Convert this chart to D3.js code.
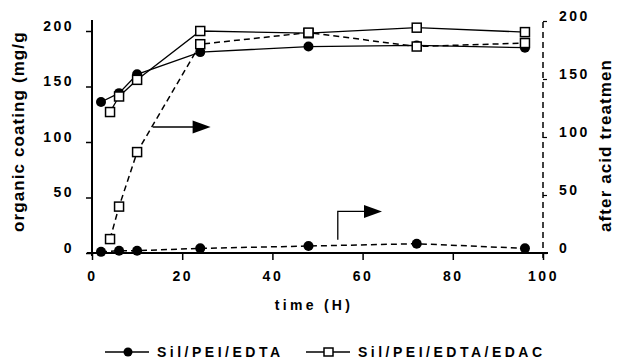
<!DOCTYPE html>
<html>
<head>
<meta charset="utf-8">
<script src="https://cdn.jsdelivr.net/npm/d3@7"></script>
<style>
  body { margin: 0; background: #fff; }
  svg { display: block; font-family: "Liberation Sans", Arial, sans-serif; font-weight: bold; }
  .tick text { font-size: 14px; letter-spacing: 2.5px; }
</style>
</head>
<body>
<div id="chart"></div>
<script>
// time points (h) and values
const timeA = [2, 6, 10, 24, 48, 72, 96];       // Sil/PEI/EDTA
const timeB = [4, 6, 10, 24, 48, 72, 96];       // Sil/PEI/EDTA/EDAC
const edtaCoating = [136, 144, 161, 181, 186, 187, 185];      // left axis
const edacCoating = [127, 141, 156, 200, 198, 203, 199];      // left axis
const edtaAfterAcid = [1, 2, 2, 4, 6, 8, 4];                  // right axis
const edacAfterAcid = [12, 40, 87, 180, 190, 178, 181];       // right axis
const xTicks = [0, 20, 40, 60, 80, 100];
const yTicks = [0, 50, 100, 150, 200];
const legendLabels = ["Sil/PEI/EDTA", "Sil/PEI/EDTA/EDAC"];

const width = 619, height = 362;

const svg = d3.select("#chart").append("svg")
  .attr("width", width)
  .attr("height", height);

// scales
const x = d3.scaleLinear().domain([0, 100]).range([92, 543]);
const yLeft = d3.scaleLinear().domain([0, 200]).range([253, 31]);
const yRight = d3.scaleLinear().domain([0, 200]).range([253, 21]);

// axes
const xAxis = d3.axisBottom(x).tickValues(xTicks).tickSize(7).tickPadding(11);
const gx = svg.append("g")
  .attr("class", "x-axis")
  .attr("transform", `translate(0, ${yLeft(0)})`)
  .call(xAxis);
gx.select(".domain").remove();
gx.append("line")
  .attr("x1", x(0) - 5).attr("x2", x(100) + 5)
  .attr("stroke", "#000").attr("stroke-width", 2);
gx.selectAll(".tick line").attr("stroke-width", 1.5);
gx.selectAll(".tick text").attr("fill", "#000");

const yAxisL = d3.axisLeft(yLeft).tickValues(yTicks).tickSize(6).tickPadding(12);
const gyl = svg.append("g")
  .attr("class", "y-axis")
  .attr("transform", `translate(${x(0)}, 0)`)
  .call(yAxisL);
gyl.select(".domain").remove();
gyl.append("line")
  .attr("y1", yLeft(0) + 3).attr("y2", yLeft(200) - 11)
  .attr("stroke", "#000").attr("stroke-width", 2);
gyl.selectAll(".tick line").attr("stroke-width", 1.5);
gyl.selectAll(".tick text").attr("fill", "#000").attr("dy", "-0.05em");

const yAxisR = d3.axisRight(yRight).tickValues(yTicks).tickSize(4).tickPadding(12);
const gyr = svg.append("g")
  .attr("class", "y-axis-right")
  .attr("transform", `translate(${x(100)}, 0)`)
  .call(yAxisR);
gyr.select(".domain").remove();
gyr.append("line")
  .attr("y1", yRight(0) + 5).attr("y2", yRight(200))
  .attr("stroke", "#000").attr("stroke-width", 1.5)
  .attr("stroke-dasharray", "6,4");
gyr.selectAll(".tick line").attr("stroke-width", 1.2);
gyr.selectAll(".tick text").attr("fill", "#000").attr("dy", "-0.05em");

// axis titles
svg.append("text")
  .attr("transform", `translate(24, 232) rotate(-90)`)
  .attr("font-size", 17)
  .attr("letter-spacing", 1.1)
  .text("organic coating (mg/g");

svg.append("text")
  .attr("transform", `translate(611, 232) rotate(-90)`)
  .attr("font-size", 17)
  .attr("letter-spacing", 1.1)
  .text("after acid treatmen");

svg.append("text")
  .attr("x", 314).attr("y", 310)
  .attr("text-anchor", "middle")
  .attr("font-size", 14)
  .attr("letter-spacing", 3.3)
  .text("time (H)");

// series
const series = [
  {t: timeA, v: edtaCoating, y: yLeft, dash: null, marker: "circle"},
  {t: timeB, v: edacCoating, y: yLeft, dash: null, marker: "square"},
  {t: timeA, v: edtaAfterAcid, y: yRight, dash: "6,4", marker: "circle"},
  {t: timeB, v: edacAfterAcid, y: yRight, dash: "6,4", marker: "square"}
];

series.forEach(s => {
  const pts = s.t.map((t, i) => [t, s.v[i]]);
  const line = d3.line().x(d => x(d[0])).y(d => s.y(d[1]));
  svg.append("path")
    .datum(pts)
    .attr("d", line)
    .attr("fill", "none")
    .attr("stroke", "#000")
    .attr("stroke-width", s.dash ? 1.5 : 1.3)
    .attr("stroke-dasharray", s.dash);

  if (s.marker === "circle") {
    svg.selectAll(null).data(pts).enter().append("circle")
      .attr("cx", d => x(d[0]))
      .attr("cy", d => s.y(d[1]))
      .attr("r", 5)
      .attr("fill", "#000");
  } else {
    svg.selectAll(null).data(pts).enter().append("rect")
      .attr("x", d => x(d[0]) - 4.5)
      .attr("y", d => s.y(d[1]) - 4.5)
      .attr("width", 9).attr("height", 9)
      .attr("fill", "#fff")
      .attr("stroke", "#000")
      .attr("stroke-width", 1.5);
  }
});

// arrows pointing to the right axis
function arrowHead(tipX, tipY) {
  svg.append("path")
    .attr("d", `M${tipX},${tipY} L${tipX - 18},${tipY - 6.5} L${tipX - 18},${tipY + 6.5} Z`)
    .attr("fill", "#000");
}
svg.append("line")
  .attr("x1", x(13.5)).attr("y1", yLeft(113.5))
  .attr("x2", x(22.5)).attr("y2", yLeft(113.5))
  .attr("stroke", "#000").attr("stroke-width", 1.3);
arrowHead(x(26.3), yLeft(113.5));

svg.append("path")
  .attr("d", `M${x(54.5)},${yLeft(12)} L${x(54.5)},${yLeft(37.5)} L${x(61)},${yLeft(37.5)}`)
  .attr("fill", "none")
  .attr("stroke", "#000").attr("stroke-width", 1.3);
arrowHead(x(64.3), yLeft(37.5));

// legend
const legend = svg.append("g").attr("class", "legend");
const legendX = [105, 306];
legendLabels.forEach((label, i) => {
  const g = legend.append("g").attr("transform", `translate(${legendX[i]}, 352)`);
  g.append("line").attr("x1", 0).attr("x2", 44)
    .attr("stroke", "#000").attr("stroke-width", 1.3);
  if (i === 0) {
    g.append("circle").attr("cx", 23).attr("r", 4.5).attr("fill", "#000");
  } else {
    g.append("rect").attr("x", 18).attr("y", -4).attr("width", 9).attr("height", 8)
      .attr("fill", "#fff").attr("stroke", "#000").attr("stroke-width", 1.5);
  }
  g.append("text")
    .attr("x", 52).attr("y", 5)
    .attr("font-size", 14)
    .attr("letter-spacing", 3.5)
    .text(label);
});
</script>
</body>
</html>
